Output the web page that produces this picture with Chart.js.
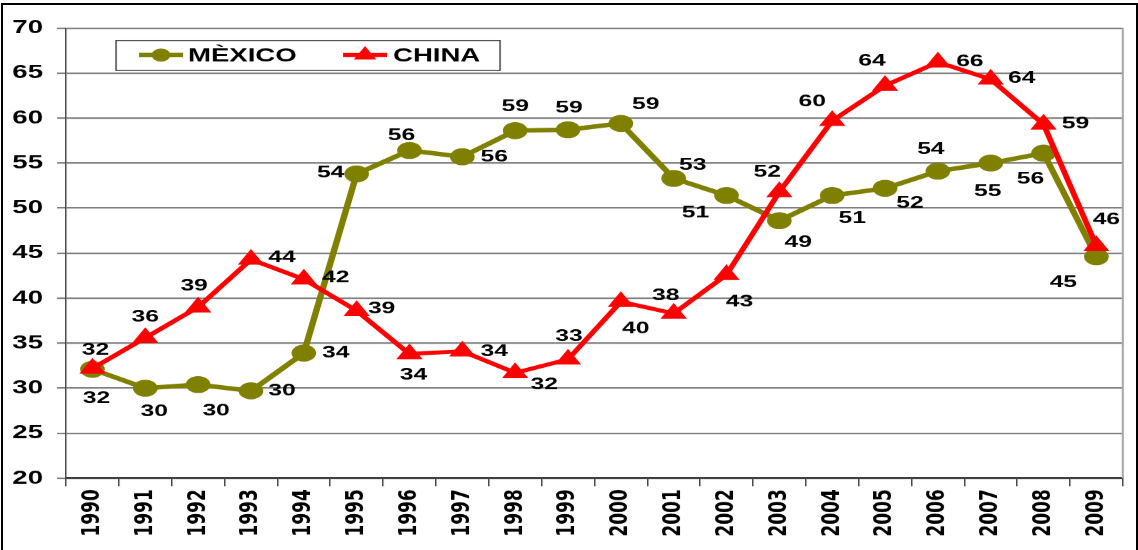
<!DOCTYPE html>
<html>
<head>
<meta charset="utf-8">
<script src="https://cdn.jsdelivr.net/npm/chart.js@4.4.1/dist/chart.umd.min.js"></script>
<style>
  html, body { margin: 0; padding: 0; background: #fff; }
  #frame { position: absolute; left: 1px; top: 3px; width: 1133px; height: 570px; border: 2px solid #000; }
  #wrap { position: absolute; left: 0; top: 0; width: 785px; height: 550px; transform: scaleX(1.4497); transform-origin: 0 0; }
</style>
</head>
<body>
<div id="frame"></div>
<div id="wrap"><canvas id="chart" width="785" height="550"></canvas></div>
<script>
// the original picture is stretched sideways, so we draw narrow and scale the wrapper
const STRETCH = 1138 / 785;

const years = ["1990","1991","1992","1993","1994","1995","1996","1997","1998","1999",
               "2000","2001","2002","2003","2004","2005","2006","2007","2008","2009"];
const mexico = [32.1, 30.0, 30.4, 29.7, 33.9, 53.8, 56.4, 55.7, 58.6, 58.7,
                59.4, 53.3, 51.4, 48.6, 51.4, 52.2, 54.1, 55.0, 56.1, 44.6];
const china  = [32.2, 35.6, 39.0, 44.3, 42.1, 38.6, 33.8, 34.1, 31.7, 33.2,
                39.6, 38.3, 42.6, 51.8, 59.7, 63.6, 66.2, 64.3, 59.3, 45.8];
const yTicks = { min: 20, max: 70, step: 5 };

// where each value label sits relative to its point (screen px)
const mexicoLabelOffset = [[4,29],[9,23],[18,26],[31,0],[32,0],[-26,-1],[-8,-15],[32,0],[0,-24],[1,-22],
                           [25,-19],[19,-13],[-31,17],[19,22],[20,23],[25,15],[-7,-22],[-3,28],[-13,26],[-33,26]];
const chinaLabelOffset  = [[3,-18],[0,-21],[-4,-21],[31,-2],[32,-2],[25,-2],[4,21],[32,0],[29,12],[1,-23],
                           [15,27],[-8,-18],[13,27],[-12,-20],[-20,-19],[-13,-25],[32,-1],[31,-1],[32,-1],[10,-26]];

const OLIVE = '#808000';
const RED = '#ff0000';

// =======================
// value labels
// =======================
const valueLabels = {
  id: 'valueLabels',
  afterDatasetsDraw(chart) {
    const ctx = chart.ctx;
    ctx.save();
    ctx.font = 'bold 17px "Liberation Sans", Arial, sans-serif';
    ctx.fillStyle = '#000';
    ctx.textAlign = 'center';
    ctx.textBaseline = 'middle';
    chart.data.datasets.forEach((ds, di) => {
      const meta = chart.getDatasetMeta(di);
      const offs = ds.labelOffset;
      meta.data.forEach((pt, i) => {
        const dx = offs[i][0] / STRETCH, dy = offs[i][1];
        ctx.fillText(String(Math.round(ds.data[i])), pt.x + dx, pt.y + dy);
      });
    });
    ctx.restore();
  }
};

// =======================
// legend box + right border
// =======================
const boxLegend = {
  id: 'boxLegend',
  afterDraw(chart) {
    const ctx = chart.ctx;
    const area = chart.chartArea;
    ctx.save();
    // right edge of the plot
    ctx.strokeStyle = '#a6a6a6';
    ctx.lineWidth = 1.4;
    ctx.beginPath();
    ctx.moveTo(area.right, area.top);
    ctx.lineTo(area.right, area.bottom);
    ctx.stroke();

    const bx = 116 / STRETCH, bw = (500 - 116) / STRETCH, by = 40, bh = 30;
    ctx.fillStyle = '#fff';
    ctx.fillRect(bx, by, bw, bh);
    ctx.strokeStyle = '#404040';
    ctx.lineWidth = 1;
    ctx.strokeRect(bx, by + 0.5, bw, bh);

    const cy = 55;
    ctx.font = 'bold 19px "Liberation Sans", Arial, sans-serif';
    ctx.textBaseline = 'middle';
    ctx.textAlign = 'left';

    // MÈXICO
    ctx.strokeStyle = OLIVE;
    ctx.lineWidth = 4.5;
    ctx.beginPath();
    ctx.moveTo(139 / STRETCH, cy);
    ctx.lineTo(183 / STRETCH, cy);
    ctx.stroke();
    ctx.fillStyle = OLIVE;
    ctx.beginPath();
    ctx.arc(161 / STRETCH, cy, 6.5, 0, Math.PI * 2);
    ctx.fill();
    ctx.fillStyle = '#000';
    ctx.fillText(chart.data.datasets[0].label, 188 / STRETCH, cy + 1);

    // CHINA
    ctx.strokeStyle = RED;
    ctx.lineWidth = 4;
    ctx.beginPath();
    ctx.moveTo(343 / STRETCH, cy);
    ctx.lineTo(387 / STRETCH, cy);
    ctx.stroke();
    ctx.fillStyle = RED;
    const r = 9, tx = 365 / STRETCH;
    ctx.beginPath();
    ctx.moveTo(tx, cy - r);
    ctx.lineTo(tx + r * 0.866, cy + r / 2);
    ctx.lineTo(tx - r * 0.866, cy + r / 2);
    ctx.closePath();
    ctx.fill();
    ctx.fillStyle = '#000';
    ctx.fillText(chart.data.datasets[1].label, 393 / STRETCH, cy + 1);
    ctx.restore();
  }
};

const ctx = document.getElementById('chart').getContext('2d');
const chart = new Chart(ctx, {
  type: 'line',
  data: {
    labels: years,
    datasets: [
      {
        label: 'MÈXICO',
        data: mexico,
        labelOffset: mexicoLabelOffset,
        borderColor: OLIVE,
        backgroundColor: OLIVE,
        borderWidth: 4.5,
        pointStyle: 'circle',
        pointRadius: 8,
        pointBorderWidth: 1,
        pointBackgroundColor: OLIVE,
        pointBorderColor: OLIVE,
        tension: 0,
        order: 1
      },
      {
        label: 'CHINA',
        data: china,
        labelOffset: chinaLabelOffset,
        borderColor: RED,
        backgroundColor: RED,
        borderWidth: 4,
        pointStyle: 'triangle',
        pointRadius: 9.5,
        pointBorderWidth: 1,
        pointBackgroundColor: RED,
        pointBorderColor: RED,
        tension: 0,
        order: 0
      }
    ]
  },
  options: {
    responsive: false,
    devicePixelRatio: STRETCH,
    animation: false,
    events: [],
    layout: { padding: { top: 28, right: 5.5, bottom: 0, left: 0 } },
    plugins: {
      legend: { display: false },
      tooltip: { enabled: false },
      title: { display: false }
    },
    scales: {
      x: {
        offset: true,
        grid: { display: true, offset: true, drawOnChartArea: false, drawTicks: true, tickLength: 8, color: '#404040', lineWidth: 1 },
        border: { display: true, color: '#404040', width: 2 },
        ticks: {
          autoSkip: false,
          maxRotation: 90,
          minRotation: 90,
          padding: 3,
          color: '#000',
          font: { family: '"DejaVu Sans", sans-serif', weight: 'bold', size: 17 }
        },
        afterFit(scale) { scale.height = 72; }
      },
      y: {
        min: yTicks.min,
        max: yTicks.max,
        grid: { color: '#808080', lineWidth: 1.5, drawTicks: true, tickLength: 6.2 },
        border: { display: true, color: '#404040', width: 1 },
        ticks: {
          stepSize: yTicks.step,
          padding: 9.7,
          color: '#000',
          font: { family: '"Liberation Sans", Arial, sans-serif', weight: 'bold', size: 19 }
        },
        afterFit(scale) { scale.width = 66 / STRETCH; }
      }
    }
  },
  plugins: [valueLabels, boxLegend]
});
</script>
</body>
</html>
